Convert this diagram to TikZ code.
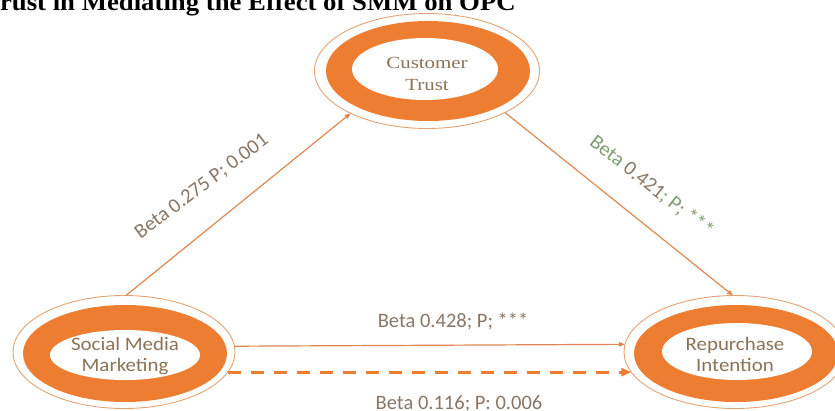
\documentclass[tikz,border=0pt]{standalone}
\usepackage{fontspec}
\usepackage{graphicx}
\setmainfont{Liberation Serif}
\newfontfamily\calibrifont{Carlito}
\usetikzlibrary{arrows.meta,shapes.geometric}

\definecolor{ringorange}{HTML}{ED7D31}
\definecolor{rimline}{HTML}{E2A274}
\definecolor{linkline}{HTML}{DC8850}
\definecolor{nodetext}{HTML}{8C7358}
\definecolor{labeltext}{HTML}{8A7666}
\definecolor{greentext}{HTML}{7F9E70}

\begin{document}
\begin{tikzpicture}[x=1pt,y=-1pt,
  rim/.style={ellipse, draw=rimline, line width=0.9pt, inner sep=0pt, outer sep=0pt},
  ring/.style={ellipse, fill=ringorange, inner sep=0pt, outer sep=0pt},
  hole/.style={ellipse, fill=white, inner sep=0pt, outer sep=0pt},
  serifname/.style={anchor=base, inner sep=0pt, text=nodetext,
    font=\fontsize{17}{20}\selectfont},
  sansname/.style={anchor=base, inner sep=0pt, text=nodetext,
    font=\calibrifont\fontsize{19}{22}\selectfont},
  pathlabel/.style={anchor=base, inner sep=0pt, text=labeltext,
    font=\calibrifont\fontsize{20.5}{24}\selectfont},
  link/.style={draw=linkline, line width=1.2pt,
    -{Triangle[length=6pt,width=4.5pt]}},
  weaklink/.style={draw=ringorange, line width=3pt, dash pattern=on 13pt off 10pt,
    -{Triangle[length=10pt,width=8pt]}}
]
\useasboundingbox (0,0) rectangle (835,410);
\clip (0,0) rectangle (835,410);

% heading, cut by the top edge
\node[anchor=base west, inner sep=0pt, font=\bfseries\fontsize{25}{28}\selectfont]
  (heading) at (-16,10) {\scalebox{1.07}[1]{Trust in Mediating the Effect of SMM on OPC}};

% Customer Trust
\node[ring, minimum width=204pt, minimum height=100pt] (ct-ring) at (428,71) {};
\node[hole, minimum width=146pt, minimum height=62pt] (ct-hole) at (425,69) {};
\node[rim, minimum width=225pt, minimum height=115pt] (ct) at (427,71) {};
\node[serifname] (ct-l1) at (427,68) {\scalebox{1.23}[1]{Customer}};
\node[serifname] (ct-l2) at (427,90) {\scalebox{1.23}[1]{Trust}};

% Social Media Marketing
\node[ring, minimum width=204pt, minimum height=97pt] (smm-ring) at (125,353.5) {};
\node[hole, minimum width=150pt, minimum height=50pt] (smm-hole) at (125,355) {};
\node[rim, minimum width=222pt, minimum height=113pt] (smm) at (124,352) {};
\node[sansname] (smm-l1) at (125,350) {\scalebox{1.1}[1]{Social Media}};
\node[sansname] (smm-l2) at (125,371) {\scalebox{1.1}[1]{Marketing}};

% Repurchase Intention
\node[ring, minimum width=204pt, minimum height=97pt] (ri-ring) at (736,353.5) {};
\node[hole, minimum width=150pt, minimum height=57pt] (ri-hole) at (737,351.5) {};
\node[rim, minimum width=222pt, minimum height=113pt] (ri) at (735,352) {};
\node[sansname] (ri-l1) at (735,350) {\scalebox{1.1}[1]{Repurchase}};
\node[sansname] (ri-l2) at (735,371) {\scalebox{1.1}[1]{Intention}};

% paths
\draw[link] (smm.88) -- (ct.209);
\draw[link] (ct.332) -- (ri.92);
\draw[link] (smm.3.4) -- (ri.176.6);
\draw[weaklink] (smm.-11.8) -- (ri.191.8);

% path coefficients
\node[pathlabel, rotate=37] (lab-a) at (205,191) {Beta 0.275 P; 0.001};
\node[pathlabel, rotate=-38, text=greentext] (lab-b) at (648,191)
  {Beta \textcolor{labeltext}{0.421}; P; ***};
\node[pathlabel] (lab-c) at (453,327) {Beta 0.428; P; ***};
\node[pathlabel] (lab-d) at (459,409.5) {Beta 0.116; P: 0.006};
\end{tikzpicture}
\end{document}
